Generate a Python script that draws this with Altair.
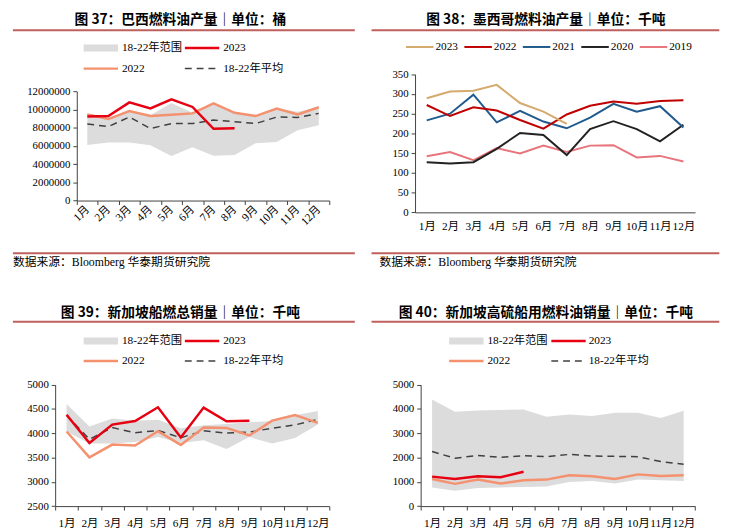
import altair as alt
import pandas as pd

months = [f"{i}月" for i in range(1, 13)]

# ---- 图37 巴西燃料油产量 (桶)
br_2023 = [9260000, 9300000, 10800000, 10130000, 11130000, 10300000, 7900000, 7960000]
br_2022 = [9480000, 8970000, 9840000, 9300000, 9440000, 9590000, 10700000, 9660000, 9300000, 10130000, 9480000, 10270000]
br_avg = [8430000, 8140000, 9190000, 7930000, 8470000, 8470000, 8860000, 8680000, 8470000, 9190000, 9150000, 9590000]
br_min = [6120000, 6380000, 6380000, 6090000, 4900000, 5870000, 4930000, 5000000, 6300000, 6440000, 7740000, 8280000]
br_max = [9500000, 9110000, 9850000, 9400000, 10740000, 9650000, 10680000, 9650000, 9300000, 10130000, 9760000, 10270000]

# ---- 图38 墨西哥燃料油产量 (千吨)
mx_2023 = [289, 306, 308, 323, 277, 255, 224]
mx_2022 = [272, 244, 266, 258, 234, 212, 248, 270, 281, 275, 282, 284]
mx_2021 = [233, 250, 298, 228, 257, 230, 213, 240, 275, 255, 269, 215]
mx_2020 = [127, 124, 127, 161, 201, 196, 145, 211, 231, 211, 180, 222]
mx_2019 = [142, 153, 132, 163, 149, 169, 153, 169, 170, 139, 143, 129]

# ---- 图39 新加坡船燃总销量 (千吨)
sg_2023 = [4380, 3800, 4178, 4252, 4535, 3915, 4528, 4245, 4259]
sg_2022 = [4036, 3504, 3767, 3747, 4043, 3760, 4117, 4110, 3955, 4259, 4373, 4212]
sg_avg = [4373, 3875, 4117, 4009, 4057, 3908, 4050, 4003, 4023, 4104, 4171, 4286]
sg_max = [4600, 4140, 4306, 4259, 4280, 4104, 4165, 4190, 4226, 4250, 4373, 4460]
sg_min = [4036, 3790, 3790, 3820, 3922, 3800, 3856, 3674, 3922, 3787, 3902, 4180]

# ---- 图40 新加坡高硫船用燃料油销量 (千吨)
hs_2023 = [1213, 1119, 1226, 1186, 1415]
hs_2022 = [1119, 916, 1092, 930, 1065, 1092, 1267, 1226, 1119, 1307, 1240, 1267]
hs_avg = [2251, 1968, 2089, 2008, 2075, 2035, 2129, 2062, 2049, 2035, 1833, 1725]
hs_max = [4394, 3881, 3935, 3962, 3976, 3679, 3774, 3706, 3841, 3841, 3625, 3922]
hs_min = [768, 633, 741, 768, 782, 809, 997, 1038, 930, 1092, 1065, 1038]

SERIF = "Liberation Serif, Noto Sans CJK SC"
SANS = "Noto Sans CJK SC"
RED = "#E60012"
SALMON = "#F4916F"
DARK = "#404040"
GRAY = "#DCDCDC"
LINECOL = "#C0605E"


def one():
    return pd.DataFrame({"k": [0]})


def txt(t, x, y, size, font=SERIF, weight="normal", align="left"):
    return alt.Chart(one()).mark_text(
        fontSize=size, font=font, fontWeight=weight, align=align,
        baseline="middle", color="#000"
    ).encode(x=alt.value(x), y=alt.value(y), text=alt.value(t))


def hline(x1, x2, y, color, width, dash=None):
    kw = dict(color=color, strokeWidth=width)
    if dash:
        kw["strokeDash"] = dash
    return alt.Chart(one()).mark_rule(**kw).encode(
        x=alt.value(x1), x2=alt.value(x2), y=alt.value(y))


def box(x1, x2, y1, y2, color):
    return alt.Chart(one()).mark_rect(color=color).encode(
        x=alt.value(x1), x2=alt.value(x2), y=alt.value(y1), y2=alt.value(y2))


def xenc(rng, offset, rotate, ticks=True, pad=5):
    ax = dict(title=None, grid=False, offset=offset, tickBand="extent",
              tickSize=4 if ticks else 0, ticks=ticks, labelFont=SERIF,
              labelFontSize=11.5, labelColor="#000", domainColor=DARK,
              tickColor=DARK, labelPadding=3)
    if rotate:
        ax.update(labelAngle=-45, labelAlign="right", labelBaseline="middle",
                  labelPadding=3)
    else:
        ax.update(labelAngle=0, labelPadding=pad)
    return alt.X("m:N", scale=alt.Scale(type="band", domain=months, range=rng,
                                         paddingInner=0, paddingOuter=0),
                 bandPosition=0.5, axis=alt.Axis(**ax))


def yenc(field, dom, rng, offset, values):
    return alt.Y(field, scale=alt.Scale(domain=dom, range=rng, nice=False, zero=False),
                 axis=alt.Axis(title=None, grid=False, offset=offset, values=values,
                               tickSize=4, labelFont=SERIF, labelFontSize=11,
                               labelColor="#000", domainColor=DARK, tickColor=DARK,
                               labelPadding=3, format="d"))


def line_layer(vals, color, width, X, Ymk, dash=None):
    df = pd.DataFrame({"m": months[:len(vals)], "v": vals})
    kw = dict(color=color, strokeWidth=width)
    if dash:
        kw["strokeDash"] = dash
    return alt.Chart(df).mark_line(**kw).encode(x=X, y=Ymk("v:Q"))


def area_layer(lo, hi, X, Ymk):
    df = pd.DataFrame({"m": months, "lo": lo, "hi": hi})
    return alt.Chart(df).mark_area(color=GRAY, opacity=1).encode(
        x=X, y=Ymk("hi:Q"), y2="lo:Q")


def range_legend(x0, y1, y2, dx2, label2_x):
    return [
        box(x0, x0 + 35, y1 - 3.5, y1 + 3.5, GRAY),
        txt("18-22年范围", x0 + 39, y1, 11.5),
        hline(dx2, dx2 + 35, y1, RED, 2.5),
        txt("2023", label2_x, y1, 11.5),
        hline(x0, x0 + 35, y2, SALMON, 2.5),
        txt("2022", x0 + 39, y2, 11.5),
        hline(dx2, dx2 + 35, y2, DARK, 1.5, [7, 5]),
        txt("18-22年平均", label2_x, y2, 11.5),
    ]


# ---------------- Panel A ----------------
WA, HA = 365, 282
XA = xenc([65, 322], -(HA - 191.3), True)
YA = lambda f: yenc(f, [0, 12000000], [191.3, 80.3], -65,
                    list(range(0, 12000001, 2000000)))
panelA = alt.layer(
    area_layer(br_min, br_max, XA, YA),
    line_layer(br_avg, DARK, 1.5, XA, YA, [7, 5]),
    line_layer(br_2022, SALMON, 2.5, XA, YA),
    line_layer(br_2023, RED, 2.5, XA, YA),
    txt("图 37：巴西燃料油产量｜单位：桶", 170.5, 8, 14, SANS, "bold", "center"),
    hline(0, 348, 18, LINECOL, 2),
    *range_legend(72, 36, 57, 175, 214),
    hline(0, 348, 245, LINECOL, 2),
    txt("数据来源：Bloomberg 华泰期货研究院", 0, 254, 12),
).properties(width=WA, height=HA)

# ---------------- Panel B ----------------
WB, HB = 373, 282
XB = xenc([44.3, 329.3], -(HB - 203.3), False, ticks=False, pad=8)
YB = lambda f: yenc(f, [0, 350], [203.3, 62.7], -44.3, list(range(0, 351, 50)))
mx_cols = ["#D4AA6E", "#C00000", "#215A8C", "#222222", "#E8747C"]
mx_names = ["2023", "2022", "2021", "2020", "2019"]
mx_series = [mx_2023, mx_2022, mx_2021, mx_2020, mx_2019]
legB = []
for i, (nm, col) in enumerate(zip(mx_names, mx_cols)):
    x0 = 35 + i * 59.5
    legB.append(hline(x0, x0 + 28, 35, col, 2))
    legB.append(txt(nm, x0 + 30, 35, 11.5))
panelB = alt.layer(
    *[line_layer(s, c, 2, XB, YB) for s, c in zip(mx_series[::-1], mx_cols[::-1])],
    txt("图 38：墨西哥燃料油产量｜单位：千吨", 177.5, 8, 14, SANS, "bold", "center"),
    hline(0, 354, 18, LINECOL, 2),
    *legB,
    hline(0, 354, 245, LINECOL, 2),
    txt("数据来源：Bloomberg 华泰期货研究院", 8, 254, 12),
).properties(width=WB, height=HB)

# ---------------- Panel C ----------------
WC, HC = 365, 241
XC = xenc([43, 322], -(HC - 220.3), False, pad=8)
YC = lambda f: yenc(f, [2500, 5000], [220.3, 96.7], -43, list(range(2500, 5001, 500)))
panelC = alt.layer(
    area_layer(sg_min, sg_max, XC, YC),
    line_layer(sg_avg, DARK, 1.5, XC, YC, [7, 5]),
    line_layer(sg_2022, SALMON, 2.5, XC, YC),
    line_layer(sg_2023, RED, 2.5, XC, YC),
    txt("图 39：新加坡船燃总销量｜单位：千吨", 170.5, 24.3, 14, SANS, "bold", "center"),
    hline(0, 348, 32.7, LINECOL, 2),
    *range_legend(72, 52.3, 72.7, 175, 214),
).properties(width=WC, height=HC)

# ---------------- Panel D ----------------
WD, HD = 373, 241
XD = xenc([50, 329.3], -(HD - 220.3), False, pad=8)
YD = lambda f: yenc(f, [0, 5000], [220.3, 96.7], -50, list(range(0, 5001, 1000)))
panelD = alt.layer(
    area_layer(hs_min, hs_max, XD, YD),
    line_layer(hs_avg, DARK, 1.5, XD, YD, [7, 5]),
    line_layer(hs_2022, SALMON, 2.5, XD, YD),
    line_layer(hs_2023, RED, 2.5, XD, YD),
    txt("图 40：新加坡高硫船用燃料油销量｜单位：千吨", 177.5, 24.3, 14, SANS, "bold", "center"),
    hline(0, 354, 32.7, LINECOL, 2),
    *range_legend(79, 52.3, 72.7, 183, 221),
).properties(width=WD, height=HD)

chart = alt.concat(
    panelA, panelB, panelC, panelD, columns=2, spacing=0,
    bounds="flush", align="each", padding=0
).configure_view(strokeWidth=0)

chart.save("out.html", embed_options={"renderer": "svg", "actions": False})
